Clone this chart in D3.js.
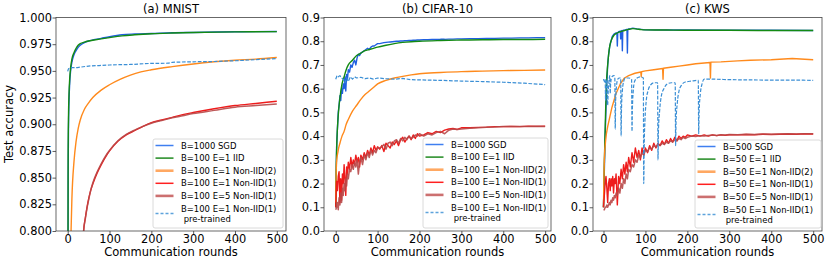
<!DOCTYPE html>
<html><head><meta charset="utf-8">
<script src="https://cdn.jsdelivr.net/npm/d3@7"></script>
<style>body{margin:0;background:#fff} svg{display:block} text{font-family:"DejaVu Sans",sans-serif}</style>
</head><body><svg id="c" width="830" height="265"></svg>
<script>
// ---------- tick labels ----------
const xTicks = [0, 100, 200, 300, 400, 500];
const mnistYTicks = [0.800, 0.825, 0.850, 0.875, 0.900, 0.925, 0.950, 0.975, 1.000];
const tenthYTicks = [0.0, 0.1, 0.2, 0.3, 0.4, 0.5, 0.6, 0.7, 0.8, 0.9];
const titles = ["(a) MNIST", "(b) CIFAR-10", "(c) KWS"];
const mnistLabels = ["B=1000 SGD", "B=100 E=1 IID", "B=100 E=1 Non-IID(2)", "B=100 E=1 Non-IID(1)", "B=100 E=5 Non-IID(1)", "B=100 E=1 Non-IID(1)"];
const cifarLabels = ["B=1000 SGD", "B=100 E=1 IID", "B=100 E=1 Non-IID(2)", "B=100 E=1 Non-IID(1)", "B=100 E=5 Non-IID(1)", "B=100 E=1 Non-IID(1)"];
const kwsLabels = ["B=500 SGD", "B=50 E=1 IID", "B=50 E=1 Non-IID(2)", "B=50 E=1 Non-IID(1)", "B=50 E=5 Non-IID(1)", "B=50 E=1 Non-IID(1)"];
const secondLine = " pre-trained";

// ---------- shared round grid for noisy series ----------
const denseRounds = [0,2,4,6,8,10,12,14,16,18,20,22,24,26,28,30,33,36,39,42,45,48,51,54,57,60,64,68,72,76,80,84,88,92,96,100,105,110,115,120,125,130,135,140,145,150,155,160,165,170,175,180,185,190,195,200,210,220,230,240,250,260,270,280,290,300,320,340,360,380,400,420,440,460,480,500];

// ---------- MNIST ----------
const mnistRounds = [0,1,2,3,5,7,10,15,20,25,30,40,50,60,80,100,130,160,200,250,300,400,500];
const mnistSGD = [0.55,0.85,0.90,0.92,0.94,0.95,0.958,0.965,0.969,0.972,0.974,0.9765,0.978,0.979,0.9805,0.982,0.9838,0.9845,0.985,0.9857,0.986,0.9866,0.9869];
const mnistIID = [0.55,0.87,0.91,0.927,0.944,0.953,0.961,0.967,0.971,0.974,0.9755,0.977,0.978,0.9787,0.980,0.9812,0.9828,0.9838,0.9848,0.9855,0.986,0.9865,0.9868];
const mnistNonIID2Rounds = [0,3,6,8,10,15,20,25,30,40,50,60,80,100,125,150,175,200,250,300,350,400,450,500];
const mnistNonIID2 = [0.3,0.6,0.75,0.80,0.83,0.865,0.884,0.896,0.904,0.914,0.920,0.925,0.932,0.937,0.942,0.946,0.949,0.951,0.954,0.9565,0.9585,0.960,0.961,0.9625];
const mnistNonIID1Rounds = [0,20,30,35,38,42,46,50,55,60,70,80,90,100,120,140,160,180,200,225,250,275,300,350,400,450,500];
const mnistE1 = [0.1,0.5,0.72,0.775,0.80,0.812,0.822,0.83,0.838,0.844,0.854,0.862,0.869,0.875,0.884,0.89,0.894,0.898,0.9015,0.904,0.9065,0.909,0.911,0.9145,0.9175,0.9195,0.9215];
const mnistE5 = [0.1,0.5,0.72,0.775,0.80,0.811,0.821,0.829,0.838,0.845,0.855,0.863,0.870,0.8755,0.8845,0.8905,0.8945,0.898,0.901,0.9035,0.906,0.908,0.91,0.913,0.916,0.9175,0.919];
const mnistPreRounds = [0,2,5,10,20,30,50,75,100,125,150,200,240,250,300,350,400,450,500];
const mnistPre = [0.9495,0.952,0.9525,0.953,0.953,0.9535,0.9545,0.955,0.9555,0.9558,0.956,0.957,0.9572,0.958,0.9585,0.9588,0.9595,0.9605,0.9615];

// ---------- CIFAR-10 ----------
const cifarSGD = [0.10,0.35,0.43,0.50,0.53,0.57,0.55,0.60,0.58,0.62,0.60,0.65,0.59,0.66,0.64,0.68,
  0.67,0.70,0.69,0.71,0.72,0.70,0.73,0.745,0.74,0.75,
  0.755,0.76,0.765,0.77,0.765,0.775,0.78,0.78,0.785,0.79,
  0.79,0.792,0.794,0.795,0.796,0.797,0.798,0.799,0.80,0.80,0.801,0.801,0.802,0.802,0.803,0.803,0.804,0.804,0.805,0.805,
  0.806,0.806,0.807,0.807,0.808,0.808,0.809,0.809,0.81,0.81,
  0.811,0.811,0.812,0.812,0.813,0.813,0.814,0.814,0.815,0.815];
const cifarRounds = [0,1,2,3,5,7,10,15,20,25,30,40,50,60,70,80,90,100,120,140,160,180,200,250,300,350,400,450,500];
const cifarIID = [0.10,0.25,0.33,0.39,0.46,0.51,0.56,0.62,0.65,0.68,0.70,0.72,0.74,0.75,0.76,0.765,0.77,0.775,0.783,0.79,0.795,0.798,0.80,0.803,0.805,0.806,0.807,0.807,0.808];
const cifarNonIID2 = [0.12,0.24,0.29,0.31,0.33,0.35,0.37,0.40,0.42,0.45,0.47,0.505,0.53,0.555,0.575,0.59,0.605,0.62,0.635,0.645,0.652,0.658,0.663,0.668,0.672,0.674,0.676,0.677,0.679];
const cifarE1 = [0.10,0.21,0.17,0.23,0.25,0.12,0.22,0.13,0.24,0.20,0.28,0.22,0.15,0.27,0.24,0.29,
  0.26,0.31,0.27,0.30,0.28,0.32,0.29,0.31,0.27,0.32,
  0.30,0.33,0.31,0.34,0.32,0.35,0.33,0.36,0.34,0.355,
  0.345,0.36,0.335,0.37,0.36,0.35,0.375,0.365,0.38,0.36,0.385,0.395,0.375,0.39,0.40,0.385,0.405,0.39,0.41,0.40,
  0.405,0.415,0.41,0.42,0.415,0.425,0.43,0.432,0.428,0.435,
  0.435,0.437,0.438,0.44,0.44,0.441,0.44,0.442,0.441,0.442];
const cifarE5 = [0.09,0.10,0.12,0.09,0.14,0.11,0.16,0.12,0.18,0.15,0.20,0.17,0.22,0.19,0.24,0.22,
  0.26,0.25,0.28,0.26,0.29,0.27,0.30,0.24,0.29,0.31,
  0.28,0.32,0.30,0.33,0.31,0.34,0.32,0.34,0.33,0.35,
  0.35,0.355,0.365,0.345,0.37,0.375,0.36,0.38,0.385,0.37,0.39,0.38,0.395,0.385,0.40,0.39,0.395,0.405,0.40,0.41,
  0.40,0.41,0.405,0.415,0.42,0.41,0.425,0.43,0.428,0.43,
  0.433,0.435,0.437,0.438,0.44,0.44,0.441,0.441,0.442,0.44];
const cifarPreRounds = [0,3,6,10,14,18,22,26,30,35,40,45,50,60,70,80,90,100,120,140,160,180,200,250,300,350,400,450,500];
const cifarPre = [0.64,0.655,0.65,0.655,0.645,0.64,0.625,0.645,0.63,0.65,0.64,0.65,0.645,0.648,0.642,0.645,0.64,0.645,0.642,0.64,0.643,0.638,0.637,0.635,0.632,0.63,0.627,0.623,0.617];

// ---------- KWS ----------
const kwsSGDRounds = [0,2,4,6,8,10,12,15,18,21,25,30,32,33,34,36,40,41,42,44,45,46,48,52,55,56,57,58,60,65,70,80,90,100,150,200,300,400,500];
const kwsSGD = [0.10,0.25,0.40,0.52,0.62,0.70,0.74,0.78,0.80,0.82,0.83,0.835,0.835,0.78,0.835,0.84,0.842,0.81,0.843,0.845,0.76,0.845,0.847,0.848,0.85,0.85,0.75,0.85,0.852,0.853,0.855,0.852,0.85,0.848,0.847,0.847,0.846,0.846,0.845];
const kwsIIDRounds = [0,1,2,3,5,7,10,15,20,25,30,40,50,60,70,80,90,100,150,200,300,400,500];
const kwsIID = [0.10,0.18,0.28,0.36,0.50,0.62,0.70,0.78,0.81,0.825,0.832,0.84,0.845,0.85,0.853,0.851,0.849,0.848,0.847,0.846,0.846,0.845,0.845];
const kwsNonIID2Rounds = [0,1,2,3,5,7,10,15,20,25,30,40,50,60,75,89,90,91,100,120,141,142,143,160,180,200,220,254,255,256,280,300,320,350,400,450,500];
const kwsNonIID2 = [0.10,0.22,0.30,0.34,0.38,0.41,0.44,0.48,0.52,0.55,0.58,0.62,0.645,0.655,0.665,0.67,0.65,0.672,0.675,0.68,0.685,0.64,0.686,0.69,0.695,0.70,0.705,0.71,0.645,0.712,0.713,0.715,0.717,0.72,0.722,0.727,0.722];
const kwsE1 = [0.10,0.15,0.20,0.23,0.18,0.12,0.20,0.22,0.17,0.22,0.19,0.23,0.16,0.22,0.20,0.24,
  0.11,0.23,0.20,0.26,0.22,0.28,0.24,0.29,0.25,0.31,
  0.27,0.33,0.29,0.35,0.31,0.34,0.30,0.35,0.32,0.35,
  0.33,0.36,0.34,0.37,0.35,0.37,0.36,0.38,0.365,0.385,0.37,0.39,0.375,0.395,0.38,0.40,0.39,0.40,0.395,0.405,
  0.40,0.405,0.40,0.405,0.40,0.405,0.402,0.405,0.403,0.406,
  0.405,0.407,0.406,0.408,0.407,0.408,0.409,0.408,0.41,0.409];
const kwsE5 = [0.09,0.09,0.10,0.10,0.11,0.10,0.11,0.12,0.11,0.13,0.12,0.14,0.13,0.15,0.14,0.16,
  0.15,0.18,0.16,0.20,0.18,0.22,0.20,0.24,0.22,0.26,
  0.25,0.28,0.27,0.30,0.29,0.32,0.31,0.33,0.32,0.34,
  0.335,0.35,0.345,0.36,0.355,0.365,0.36,0.37,0.365,0.375,0.37,0.38,0.375,0.385,0.38,0.39,0.385,0.395,0.39,0.395,
  0.40,0.398,0.402,0.40,0.403,0.405,0.403,0.406,0.405,0.407,
  0.406,0.408,0.407,0.409,0.408,0.409,0.41,0.409,0.41,0.41];
const kwsPreRounds = [0,2,4,5,6,8,10,11,13,15,16,17,20,25,27,28,29,31,34,38,41,42,43,45,48,52,60,67,68,69,71,74,80,88,95,96,97,99,102,106,112,120,129,130,131,134,138,144,152,162,171,172,173,176,180,186,195,210,226,227,228,231,235,240,260,300,350,400,450,500];
const kwsPre = [0.64,0.63,0.64,0.55,0.60,0.64,0.53,0.58,0.63,0.655,0.58,0.62,0.65,0.655,0.65,0.43,0.55,0.61,0.64,0.645,0.645,0.40,0.52,0.59,0.63,0.645,0.645,0.64,0.42,0.52,0.59,0.63,0.645,0.65,0.645,0.20,0.35,0.47,0.55,0.59,0.615,0.625,0.625,0.30,0.42,0.51,0.57,0.60,0.62,0.625,0.625,0.36,0.46,0.54,0.59,0.615,0.628,0.632,0.635,0.41,0.50,0.58,0.62,0.64,0.64,0.638,0.637,0.636,0.636,0.635];

// ---------- styles (order: SGD, IID, Non-IID(2), E=1 Non-IID(1), E=5 Non-IID(1), pre-trained) ----------
const lineStyles = [
  {color:"#1f5fe0", width:1.4},
  {color:"#138a13", width:1.4},
  {color:"#ff8a1c", width:1.4},
  {color:"#ee1c1c", width:1.4},
  {color:"#b84848", width:1.5, opacity:0.9},
  {color:"#3b8fd5", width:1.2, dash:"3.7,1.6"}
];
const legendStyles = [
  {color:"#3f7ff0", width:1.5},
  {color:"#1f8a1f", width:1.5},
  {color:"#ffa862", width:2.6},
  {color:"#ff2020", width:1.5},
  {color:"#cc7070", width:2.6},
  {color:"#5ea3dc", width:1.5, dash:"3,2"}
];

const TOP = 17.5, BOTTOM = 231;
const panels = [
  {left:56, right:286, xDomain:[-28,522], yDomain:[0.8,1.0], yTicks:mnistYTicks, yFmt:d3.format(".3f"), labels:mnistLabels, legend:[153,139,283,228],
   series:[[mnistRounds,mnistSGD],[mnistRounds,mnistIID],[mnistNonIID2Rounds,mnistNonIID2],[mnistNonIID1Rounds,mnistE1],[mnistNonIID1Rounds,mnistE5],[mnistPreRounds,mnistPre]], linear:[false,false,false,false,false,false]},
  {left:324, right:551, xDomain:[-28,514], yDomain:[0,0.9], yTicks:tenthYTicks, yFmt:d3.format(".1f"), labels:cifarLabels, legend:[423,138,548,228],
   series:[[denseRounds,cifarSGD],[cifarRounds,cifarIID],[cifarRounds,cifarNonIID2],[denseRounds,cifarE1],[denseRounds,cifarE5],[cifarPreRounds,cifarPre]], linear:[true,false,false,true,true,true]},
  {left:593, right:822, xDomain:[-25,521], yDomain:[0,0.9], yTicks:tenthYTicks, yFmt:d3.format(".1f"), labels:kwsLabels, legend:[695,140,821,228],
   series:[[kwsSGDRounds,kwsSGD],[kwsIIDRounds,kwsIID],[kwsNonIID2Rounds,kwsNonIID2],[denseRounds,kwsE1],[denseRounds,kwsE5],[kwsPreRounds,kwsPre]], linear:[true,false,true,true,true,false]}
];

const svg = d3.select("#c");
const defs = svg.append("defs");
const tickFS = 11.4, titleFS = 11.5, labelFS = 11.5, legendFS = 8.45;

panels.forEach((p, pi) => {
  const x = d3.scaleLinear().domain(p.xDomain).range([p.left, p.right]);
  const y = d3.scaleLinear().domain(p.yDomain).range([BOTTOM, TOP]);
  const g = svg.append("g");
  defs.append("clipPath").attr("id", "clip" + pi).append("rect")
    .attr("x", p.left).attr("y", TOP).attr("width", p.right - p.left).attr("height", BOTTOM - TOP);
  const lg = g.append("g").attr("clip-path", `url(#clip${pi})`);
  p.series.forEach((s, i) => {
    const st = lineStyles[i];
    const data = s[0].map((r, j) => [r, s[1][j]]);
    lg.append("path").datum(data)
      .attr("fill", "none").attr("stroke", st.color).attr("stroke-width", st.width)
      .attr("stroke-opacity", st.opacity || 1)
      .attr("stroke-dasharray", st.dash || null)
      .attr("stroke-linejoin", "round")
      .attr("d", d3.line().x(d => x(d[0])).y(d => y(d[1])).curve(p.linear[i] ? d3.curveLinear : d3.curveMonotoneX));
  });
  const xa = g.append("g").attr("transform", `translate(0,${BOTTOM})`)
    .call(d3.axisBottom(x).tickValues(xTicks).tickSize(3.5).tickPadding(0.5).tickFormat(d3.format("d")));
  const ya = g.append("g").attr("transform", `translate(${p.left},0)`)
    .call(d3.axisLeft(y).tickValues(p.yTicks).tickSize(3.5).tickPadding(0.6).tickFormat(p.yFmt));
  [xa, ya].forEach(a => {
    a.attr("font-size", tickFS).attr("font-family", "DejaVu Sans");
    a.select(".domain").remove();
    a.selectAll("line").attr("stroke", "#333").attr("stroke-width", 0.8);
    a.selectAll("text").attr("fill", "#000");
  });
  g.append("rect").attr("x", p.left).attr("y", TOP).attr("width", p.right - p.left).attr("height", BOTTOM - TOP)
    .attr("fill", "none").attr("stroke", "#444").attr("stroke-width", 0.8);
  const cx = (p.left + p.right) / 2;
  g.append("text").attr("x", cx).attr("y", 13).attr("text-anchor", "middle").attr("font-size", titleFS).text(titles[pi]);
  g.append("text").attr("x", cx).attr("y", 255.5).attr("text-anchor", "middle").attr("font-size", labelFS).text("Communication rounds");

  // legend
  const [L, T, R, B] = p.legend;
  const leg = g.append("g");
  leg.append("rect").attr("x", L).attr("y", T).attr("width", R - L).attr("height", B - T).attr("rx", 2)
    .attr("fill", "#fff").attr("fill-opacity", 0.85).attr("stroke", "#d0d0d0").attr("stroke-width", 0.8);
  p.labels.forEach((lab, i) => {
    const st = legendStyles[i];
    const rowY = T + 6.5 + i * 12.6;
    const hy = i === 5 ? rowY + 5 : rowY;
    leg.append("line").attr("x1", L + 2.5).attr("x2", L + 20.5).attr("y1", hy).attr("y2", hy)
      .attr("stroke", st.color).attr("stroke-width", st.width).attr("stroke-dasharray", st.dash || null);
    leg.append("text").attr("x", L + 28).attr("y", rowY + 3).attr("font-size", legendFS).text(lab);
    if (i === 5) leg.append("text").attr("x", L + 28).attr("y", rowY + 13).attr("font-size", legendFS).style("white-space", "pre").text(secondLine);
  });
});

svg.append("text").attr("transform", "translate(13.4,124) rotate(-90)").attr("text-anchor", "middle")
  .attr("font-size", labelFS).text("Test accuracy");
</script>
</body></html>
